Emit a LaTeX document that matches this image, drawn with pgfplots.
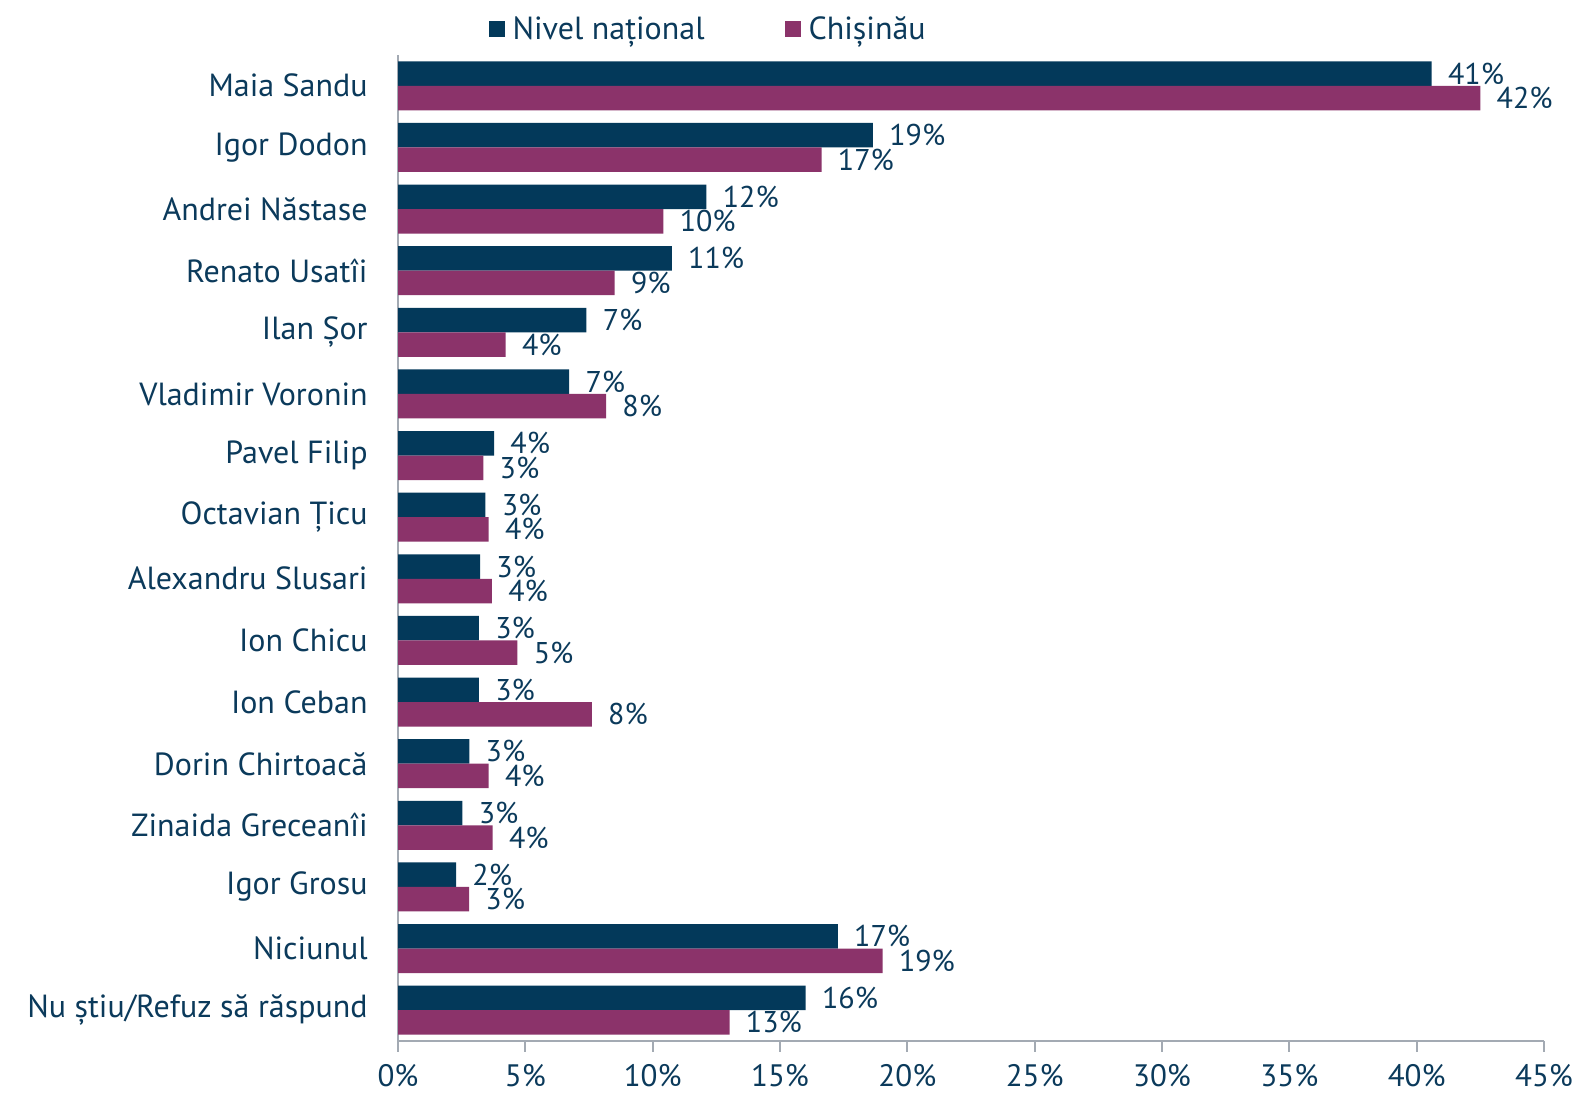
\documentclass[border=0pt]{standalone}
\usepackage{fontspec}
\setmainfont{PT Sans}
\usepackage{pgfplots}
\usepackage{pgfplotstable}
\pgfplotsset{compat=1.18}
\definecolor{navy}{HTML}{03395A}
\definecolor{plum}{HTML}{8B336A}
\definecolor{txt}{HTML}{0B3A5B}
\definecolor{axgray}{HTML}{A3AAB3}

\pgfplotstableread{
y x lab
15 40.59 41
14 18.65 19
13 12.11 12
12 10.75 11
11 7.40 7
10 6.72 7
9 3.77 4
8 3.43 3
7 3.22 3
6 3.18 3
5 3.18 3
4 2.80 3
3 2.53 3
2 2.28 2
1 17.27 17
0 16.01 16
}\nat

\pgfplotstableread{
y x lab
15 42.50 42
14 16.63 17
13 10.42 10
12 8.51 9
11 4.23 4
10 8.17 8
9 3.35 3
8 3.56 4
7 3.69 4
6 4.69 5
5 7.61 8
4 3.56 4
3 3.72 4
2 2.79 3
1 19.03 19
0 13.02 13
}\chis

\begin{document}
\begin{tikzpicture}
\useasboundingbox (0,0) rectangle (786.5pt,547.5pt);
\begin{axis}[
  at={(199pt,27pt)}, anchor=south west,
  scale only axis, width=573pt, height=493pt,
  xbar, bar width=0.398,
  xmin=0, xmax=45, ymin=-0.5, ymax=15.5,
  clip=false,
  axis x line*=bottom, axis y line*=left,
  axis line style={axgray, line width=1pt},
  xtick={0,5,10,15,20,25,30,35,40,45},
  xticklabels={0\%,5\%,10\%,15\%,20\%,25\%,30\%,35\%,40\%,45\%},
  ytick={0,...,15},
  yticklabels={Nu știu/Refuz să răspund, Niciunul, Igor Grosu, Zinaida Greceanîi, Dorin Chirtoacă, Ion Ceban, Ion Chicu, Alexandru Slusari, Octavian Țicu, Pavel Filip, Vladimir Voronin, Ilan Șor, Renato Usatîi, Andrei Năstase, Igor Dodon, Maia Sandu},
  y tick style={draw=none},
  x tick style={axgray, line width=1pt},
  tick align=outside, major tick length=5.5pt,
  font=\fontsize{16}{19}\selectfont,
  tick label style={text=txt, font=\fontsize{16}{19}\selectfont},
  yticklabel style={inner sep=0pt, xshift=-9.5pt},
  xticklabel style={inner sep=0pt, yshift=-6pt, font=\fontsize{15.5}{18}\selectfont},
  point meta=explicit symbolic,
  nodes near coords={\pgfplotspointmeta\%},
  every node near coord/.append style={anchor=west, text=txt, inner sep=0pt, xshift=8pt, font=\fontsize{15}{17}\selectfont},
  legend style={at={(axis description cs:0.2715,1.026)}, anchor=center, draw=none, fill=none,
    legend columns=2, font=\fontsize{16}{19}\selectfont, text=txt,
    /tikz/every even column/.append style={column sep=38pt},
    nodes={inner sep=2pt}},
  legend image code/.code={\fill[#1] (0pt,-4pt) rectangle (8pt,4pt);},
  legend cell align=left,
]
\addplot[fill=navy, draw=none, bar shift=0.199] table[x=x,y=y,meta=lab]{\nat};
\addplot[fill=plum, draw=none, bar shift=-0.199] table[x=x,y=y,meta=lab]{\chis};
\legend{\hspace{2pt}Nivel național, \hspace{2pt}Chișinău}
\end{axis}
\end{tikzpicture}
\end{document}
